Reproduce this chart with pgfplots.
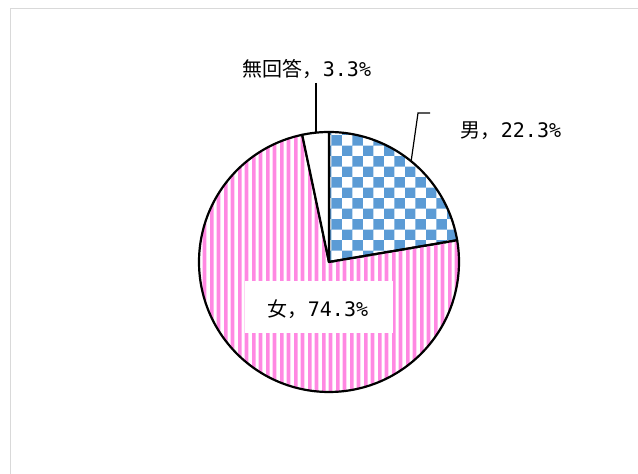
\documentclass[border=0pt]{standalone}
\usepackage{pgfplots}
\pgfplotsset{compat=1.18}
\usepackage{fontspec}
\newfontfamily\cjk{Noto Sans CJK JP}
\newfontfamily\mono{DejaVu Sans Mono}
\usetikzlibrary{patterns}
\definecolor{pieblue}{RGB}{91,155,213}
\definecolor{piepink}{RGB}{255,136,226}
\definecolor{framegray}{RGB}{217,217,217}

\pgfdeclarepatternformonly{checker}{\pgfpointorigin}{\pgfpoint{21.4pt}{21.4pt}}{\pgfpoint{21.4pt}{21.4pt}}{%
  \pgfpathrectangle{\pgfpointorigin}{\pgfpoint{10.7pt}{10.7pt}}%
  \pgfpathrectangle{\pgfpoint{10.7pt}{10.7pt}}{\pgfpoint{10.7pt}{10.7pt}}%
  \pgfusepath{fill}%
}
\pgfdeclarepatternformonly{vstripes}{\pgfpointorigin}{\pgfpoint{14pt}{600pt}}{\pgfpoint{14pt}{600pt}}{%
  \pgfpathrectangle{\pgfpointorigin}{\pgfpoint{4pt}{600pt}}%
  \pgfpathrectangle{\pgfpoint{7pt}{0pt}}{\pgfpoint{4pt}{600pt}}%
  \pgfusepath{fill}%
}

% shares (%)
\def\pMale{22.3}
\def\pFemale{74.3}
\def\pNA{3.3}
\pgfmathsetmacro\total{\pMale+\pFemale+\pNA}
\pgfmathsetmacro\aA{90-\pMale/\total*360}
\pgfmathsetmacro\aB{\aA-\pFemale/\total*360}
\pgfmathsetmacro\aC{-270}

\begin{document}
\begin{tikzpicture}
\begin{axis}[
  scale only axis, width=638pt, height=474pt,
  xmin=0, xmax=638, ymin=0, ymax=474,
  hide axis,
]
\path (0,0) rectangle (638,474);
% frame
\draw[framegray, line width=1.2pt] (10.5,-5) -- (10.5,465.5) -- (645,465.5);
% slices
\addplot[draw=black, line width=2.2pt, line join=round, pattern=checker, pattern color=pieblue,
  domain=\aA:90, samples=60, variable=\t]
  ({329+130*cos(\t)},{212+130*sin(\t)}) -- (329,212) -- cycle;
\addplot[draw=black, line width=2.2pt, line join=round, pattern=vstripes, pattern color=piepink,
  domain=\aB:\aA, samples=150, variable=\t]
  ({329+130*cos(\t)},{212+130*sin(\t)}) -- (329,212) -- cycle;
\addplot[draw=black, line width=2.2pt, line join=round, fill=white,
  domain=\aC:\aB, samples=20, variable=\t]
  ({329+130*cos(\t)},{212+130*sin(\t)}) -- (329,212) -- cycle;
% leader lines
\draw[black, line width=1.2pt] (316,391) -- (316,341);
\draw[black, line width=1.2pt] (430,361) -- (418,361) -- (411,312);
% labels
\fill[white] (245,141) rectangle (393,193);
\node[font={\fontsize{20}{24}\selectfont\cjk}] at (318,165) {女，{\mono 74.3\%}};
\node[font={\fontsize{20}{24}\selectfont\cjk}] at (307,405) {無回答，{\mono 3.3\%}};
\node[font={\fontsize{20}{24}\selectfont\cjk}] at (511,343) {男，{\mono 22.3\%}};
\end{axis}
\end{tikzpicture}
\end{document}
